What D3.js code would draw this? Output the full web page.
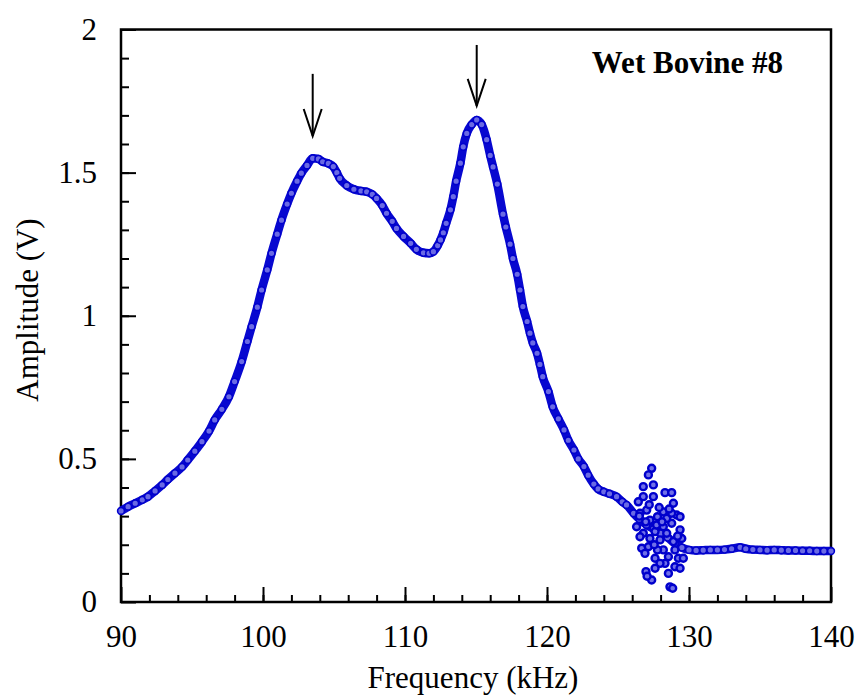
<!DOCTYPE html>
<html>
<head>
<meta charset="utf-8">
<script src="https://cdn.jsdelivr.net/npm/d3@7/dist/d3.min.js"></script>
<style>
  body { margin: 0; background: #fff; }
  svg { display: block; }
  .axis line { stroke: #000; stroke-width: 2; }
</style>
</head>
<body>
<svg></svg>
<script>
'use strict';
var serif = '"Liberation Serif", "Times New Roman", Times, serif';

// main sweep (kHz, V)
var freq = [90.0, 90.5, 91.0, 91.5, 91.9, 92.4, 92.9, 93.3, 93.8, 94.3, 94.7, 95.2, 95.7, 96.2, 96.6, 97.1,
  97.6, 98.0, 98.5, 98.9, 99.2, 99.6, 99.9, 100.3, 100.6, 101.0, 101.3, 101.7, 102.0, 102.4, 102.7, 103.1,
  103.5, 103.9, 104.2, 104.6, 104.95, 105.2, 105.4, 105.9, 106.4, 106.9, 107.3, 107.7, 108.0, 108.4, 108.7,
  109.1, 109.4, 109.9, 110.4, 110.8, 111.3, 111.7, 112.0, 112.3, 112.5, 112.7, 112.9, 113.2, 113.4, 113.6,
  113.9, 114.1, 114.35, 114.7, 115.05, 115.4, 115.75, 116.0, 116.2, 116.5, 116.9, 117.1, 117.4, 117.6, 117.9,
  118.1, 118.3, 118.6, 118.8, 119.0, 119.3, 119.5, 119.7, 120.1, 120.4, 120.8, 121.2, 121.5, 121.9, 122.2,
  122.6, 122.9, 123.3, 123.6, 124.0, 124.4, 124.9, 125.3, 125.6, 126.1, 126.5, 127.0, 127.5, 128.0, 128.5,
  129.0, 129.5, 130.0, 130.5, 131.0, 131.5, 132.0, 132.5, 133.0, 133.6, 134.0, 134.5, 135.0, 135.5, 136.0,
  136.5, 137.0, 137.5, 138.0, 138.5, 139.0, 139.5, 140.0];
var amp = [0.318, 0.333, 0.345, 0.357, 0.368, 0.388, 0.409, 0.428, 0.450, 0.472, 0.496, 0.527, 0.560, 0.597, 0.636, 0.673,
  0.717, 0.770, 0.840, 0.910, 0.962, 1.030, 1.090, 1.160, 1.218, 1.285, 1.334, 1.390, 1.428, 1.470, 1.498, 1.525,
  1.550, 1.548, 1.538, 1.532, 1.521, 1.500, 1.480, 1.455, 1.442, 1.436, 1.433, 1.424, 1.410, 1.385, 1.358,
  1.330, 1.305, 1.277, 1.253, 1.232, 1.220, 1.218, 1.224, 1.245, 1.265, 1.290, 1.323, 1.370, 1.416, 1.470,
  1.533, 1.590, 1.637, 1.668, 1.684, 1.668, 1.615, 1.560, 1.520, 1.460, 1.355, 1.310, 1.250, 1.200, 1.145,
  1.090, 1.032, 0.980, 0.939, 0.905, 0.869, 0.830, 0.787, 0.735, 0.682, 0.640, 0.601, 0.565, 0.531, 0.500,
  0.473, 0.443, 0.412, 0.395, 0.385, 0.378, 0.368, 0.350, 0.339, 0.310, 0.290, 0.270, 0.255, 0.240, 0.225,
  0.205, 0.190, 0.182, 0.180, 0.181, 0.182, 0.182, 0.183, 0.186, 0.191, 0.186, 0.183, 0.182, 0.181, 0.182,
  0.181, 0.180, 0.180, 0.179, 0.179, 0.178, 0.178, 0.178];

// scattered readings around 126-130 kHz
var noiseFreq = [127.37, 127.14, 126.78, 127.49, 128.31, 128.78, 126.78, 127.49, 128.90, 126.43, 128.19, 129.13,
  126.55, 127.25, 128.78, 129.37, 126.78, 127.61, 128.43, 127.96, 128.90, 126.67, 127.14, 128.19, 129.25,
  129.60, 127.61, 128.31, 129.01, 129.37, 126.97, 128.55, 127.37, 128.66, 128.85, 126.31, 127.02, 127.78,
  128.43, 127.72, 129.37, 128.19, 128.78, 129.49, 126.55, 127.25, 126.90, 127.78, 128.55, 129.01, 127.96,
  127.61, 127.05, 127.20, 127.90, 128.60, 126.95, 127.55, 128.10, 126.50, 129.20];
var noiseAmp = [0.467, 0.444, 0.403, 0.409, 0.382, 0.382, 0.368, 0.368, 0.345, 0.350, 0.315, 0.304,
  0.310, 0.286, 0.275, 0.252, 0.240, 0.246, 0.240, 0.217, 0.211, 0.188, 0.193, 0.182, 0.153,
  0.153, 0.153, 0.135, 0.123, 0.118, 0.106, 0.100, 0.077, 0.053, 0.048, 0.263, 0.321, 0.298,
  0.292, 0.269, 0.298, 0.263, 0.310, 0.222, 0.228, 0.222, 0.170, 0.182, 0.158, 0.182, 0.135,
  0.118, 0.090, 0.340, 0.330, 0.325, 0.280, 0.200, 0.280, 0.300, 0.230];

var xTicks = [90, 100, 110, 120, 130, 140];
var yTicks = [0, 0.5, 1, 1.5, 2];

// arrows over the two peaks: frequency, top of shaft, tip (V)
var arrowFreq = [103.5, 115.05];
var arrowTop = [1.845, 1.946];
var arrowTip = [1.628, 1.733];

var canvasWidth = 860;
var canvasHeight = 698;
var margin = { top: 29.5, right: 29, bottom: 96, left: 121 };
var width = canvasWidth - margin.left - margin.right;
var height = canvasHeight - margin.top - margin.bottom;

var svg = d3.select('svg')
  .attr('width', canvasWidth)
  .attr('height', canvasHeight)
  .attr('font-family', serif);

var g = svg.append('g')
  .attr('transform', 'translate(' + margin.left + ',' + margin.top + ')');

var xScale = d3.scaleLinear().domain([90, 140]).range([0, width]);
var yScale = d3.scaleLinear().domain([0, 2]).range([height, 0]);

// minor ticks first, then major ones
g.append('g')
  .attr('class', 'axis')
  .attr('transform', 'translate(0,' + height + ')')
  .call(d3.axisBottom(xScale).tickValues(d3.range(92, 140, 2)).tickSize(-7).tickFormat(''));
g.append('g')
  .attr('class', 'axis')
  .call(d3.axisLeft(yScale).tickValues(d3.range(0.1, 2, 0.1)).tickSize(-8).tickFormat(''));

var xAxis = g.append('g')
  .attr('class', 'axis')
  .attr('transform', 'translate(0,' + height + ')')
  .call(d3.axisBottom(xScale).tickValues(xTicks).tickSize(-15).tickPadding(23).tickFormat(d3.format('d')));
var yAxis = g.append('g')
  .attr('class', 'axis')
  .call(d3.axisLeft(yScale).tickValues(yTicks).tickSize(-15).tickPadding(24).tickFormat(function(d) { return String(d); }));

// d3 puts sans-serif 10px on the axis group, switch it back
[xAxis, yAxis].forEach(function(a) {
  a.attr('font-family', serif).attr('font-size', 31);
  a.selectAll('text').attr('fill', '#000');
});

g.selectAll('.axis .domain').remove();

// frame
g.append('rect')
  .attr('width', width)
  .attr('height', height)
  .attr('fill', 'none')
  .attr('stroke', '#000')
  .attr('stroke-width', 2.5);

// data
var sweep = freq.map(function(f, i) { return [f, amp[i]]; });
var noise = noiseFreq.map(function(f, i) { return [f, noiseAmp[i]]; });

var line = d3.line()
  .x(function(d) { return xScale(d[0]); })
  .y(function(d) { return yScale(d[1]); })
  .curve(d3.curveMonotoneX);

g.append('path')
  .datum(sweep)
  .attr('d', line)
  .attr('fill', 'none')
  .attr('stroke', '#0808d0')
  .attr('stroke-width', 8.5)
  .attr('stroke-linejoin', 'round');

g.selectAll('circle.sweep')
  .data(sweep)
  .enter()
  .append('circle')
  .attr('class', 'sweep')
  .attr('cx', function(d) { return xScale(d[0]); })
  .attr('cy', function(d) { return yScale(d[1]); })
  .attr('r', 3.4)
  .attr('fill', '#6a6ae4')
  .attr('stroke', '#0000cc')
  .attr('stroke-width', 1.6);

g.selectAll('circle.noise')
  .data(noise)
  .enter()
  .append('circle')
  .attr('class', 'noise')
  .attr('cx', function(d) { return xScale(d[0]); })
  .attr('cy', function(d) { return yScale(d[1]); })
  .attr('r', 3.5)
  .attr('fill', '#7070e8')
  .attr('stroke', '#0000cc')
  .attr('stroke-width', 2.4);

// arrows
arrowFreq.forEach(function(f, i) {
  var ax = xScale(f);
  var ty = yScale(arrowTop[i]);
  var py = yScale(arrowTip[i]);
  g.append('line')
    .attr('x1', ax).attr('x2', ax)
    .attr('y1', ty).attr('y2', py)
    .attr('stroke', '#000')
    .attr('stroke-width', 2);
  g.append('path')
    .attr('d', 'M' + (ax - 9) + ',' + (py - 27) + 'L' + ax + ',' + py + 'L' + (ax + 9) + ',' + (py - 27))
    .attr('fill', 'none')
    .attr('stroke', '#000')
    .attr('stroke-width', 2);
});

// label
svg.append('text')
  .attr('x', 783)
  .attr('y', 73)
  .attr('text-anchor', 'end')
  .style('font-size', '31px')
  .style('font-weight', 'bold')
  .text('Wet Bovine #8');

// axis titles
svg.append('text')
  .attr('x', 473)
  .attr('y', 688)
  .attr('text-anchor', 'middle')
  .style('font-size', '31px')
  .text('Frequency (kHz)');

svg.append('text')
  .attr('transform', 'rotate(-90)')
  .attr('x', -310)
  .attr('y', 38)
  .attr('text-anchor', 'middle')
  .style('font-size', '31px')
  .text('Amplitude (V)');
</script>
</body>
</html>
